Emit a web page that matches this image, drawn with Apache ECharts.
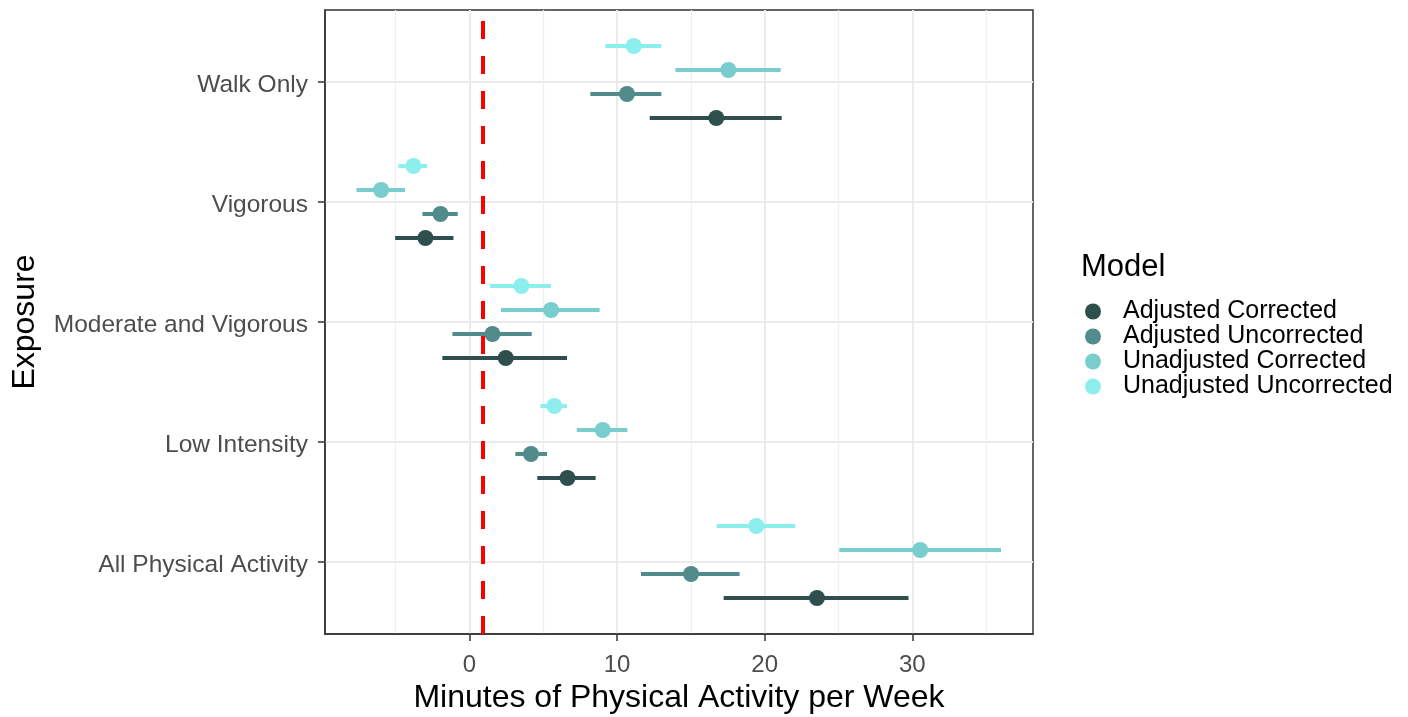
<!DOCTYPE html>
<html>
<head>
<meta charset="utf-8">
<script src="https://cdn.jsdelivr.net/npm/echarts@6/dist/echarts.min.js"></script>
<style>
  html, body { margin: 0; padding: 0; background: #fff; }
  #main { width: 1408px; height: 717px; }
</style>
</head>
<body>
<div id="main"></div>
<script>
// exposures, bottom to top
var exposures = ['All Physical Activity', 'Low Intensity', 'Moderate and Vigorous', 'Vigorous', 'Walk Only'];
var models = ['Adjusted Corrected', 'Adjusted Uncorrected', 'Unadjusted Corrected', 'Unadjusted Uncorrected'];
var modelColors = ['#2F4F4F', '#528B8B', '#79CDCD', '#8DEEEE'];

// estimates and intervals, one value per exposure (same order as exposures)
var adjCorrEst = [23.54, 6.64, 2.46, -2.98, 16.72];
var adjCorrLow = [17.22, 4.60, -1.83, -5.03, 12.21];
var adjCorrHigh = [29.74, 8.55, 6.61, -1.08, 21.15];

var adjUncEst = [15.01, 4.17, 1.56, -1.96, 10.67];
var adjUncLow = [11.62, 3.11, -1.15, -3.18, 8.19];
var adjUncHigh = [18.30, 5.26, 4.22, -0.79, 13.00];

var unadjCorrEst = [30.53, 9.03, 5.53, -5.98, 17.54];
var unadjCorrLow = [25.05, 7.27, 2.14, -7.65, 13.95];
var unadjCorrHigh = [36.00, 10.70, 8.82, -4.36, 21.08];

var unadjUncEst = [19.43, 5.75, 3.52, -3.79, 11.13];
var unadjUncLow = [16.75, 4.81, 1.40, -4.81, 9.21];
var unadjUncHigh = [22.07, 6.61, 5.53, -2.87, 13.00];

var xTicks = [0, 10, 20, 30];
var xMinorTicks = [-5, 5, 15, 25, 35];
var refValue = 0.93;

var estimates = [adjCorrEst, adjUncEst, unadjCorrEst, unadjUncEst];
var lows = [adjCorrLow, adjUncLow, unadjCorrLow, unadjUncLow];
var highs = [adjCorrHigh, adjUncHigh, unadjCorrHigh, unadjUncHigh];

var font = 'Liberation Sans, Arial, sans-serif';
var yTicks = exposures.map(function (e, i) { return i + 1; });

var chart = echarts.init(document.getElementById('main'));

var pointSeries = [];
var rangeSeries = [];
models.forEach(function (m, k) {
  var dodge = -0.3 + 0.2 * k;
  var color = modelColors[k];
  var pts = [];
  var rng = [];
  for (var i = 0; i < exposures.length; i++) {
    pts.push([estimates[k][i], i + 1 + dodge]);
    rng.push([i + 1 + dodge, lows[k][i], highs[k][i]]);
  }
  pointSeries.push({
    name: m,
    type: 'scatter',
    symbol: 'circle',
    symbolSize: 16,
    itemStyle: { color: color, opacity: 1 },
    data: pts,
    z: 4,
    silent: true
  });
  rangeSeries.push({
    name: m,
    type: 'custom',
    renderItem: function (params, api) {
      var y = api.value(0);
      var a = api.coord([api.value(1), y]);
      var b = api.coord([api.value(2), y]);
      return {
        type: 'line',
        shape: { x1: a[0], y1: a[1], x2: b[0], y2: b[1] },
        style: { stroke: color, lineWidth: 4 }
      };
    },
    encode: { x: [1, 2], y: 0 },
    data: rng,
    z: 3,
    silent: true
  });
});

var option = {
  animation: false,
  textStyle: { fontFamily: font },
  title: {
    text: 'Model',
    left: 1081,
    top: 252,
    padding: 0,
    textStyle: { fontFamily: font, fontSize: 31, fontWeight: 'normal', color: '#000' }
  },
  legend: {
    data: models,
    orient: 'vertical',
    left: 1085,
    top: 299,
    padding: 0,
    icon: 'circle',
    itemWidth: 16,
    itemHeight: 16,
    itemGap: 0,
    textStyle: { fontFamily: font, fontSize: 25, color: '#000', lineHeight: 25, padding: [0, 0, 0, 17] }
  },
  grid: {
    left: 325,
    top: 10,
    right: 375,
    bottom: 83,
    outerBoundsMode: 'none',
    show: true,
    borderColor: '#333',
    borderWidth: 1.5,
    backgroundColor: '#fff'
  },
  xAxis: [{
    type: 'value',
    min: -9.78,
    max: 38.17,
    name: 'Minutes of Physical Activity per Week',
    nameLocation: 'middle',
    nameGap: 48,
    nameTextStyle: { fontFamily: font, fontSize: 32, color: '#000' },
    axisLine: { show: true, onZero: false, lineStyle: { color: '#333', width: 1.5 } },
    axisTick: { show: true, length: 7, customValues: xTicks, lineStyle: { color: '#333', width: 1.5 } },
    axisLabel: { customValues: xTicks, margin: 19, fontSize: 24, color: '#4D4D4D', fontFamily: font },
    splitLine: { show: true, lineStyle: { color: '#EBEBEB', width: 2 } }
  }, {
    type: 'value',
    min: -9.78,
    max: 38.17,
    position: 'top',
    axisLine: { show: false },
    axisTick: { show: false, customValues: xMinorTicks },
    axisLabel: { show: false, customValues: xMinorTicks },
    splitLine: { show: true, lineStyle: { color: '#EFEFEF', width: 1.3 } }
  }],
  yAxis: {
    type: 'value',
    min: 0.4,
    max: 5.6,
    name: 'Exposure',
    nameLocation: 'middle',
    nameRotate: 90,
    nameGap: 284,
    nameTextStyle: { fontFamily: font, fontSize: 32, color: '#000' },
    axisLine: { show: true, onZero: false, lineStyle: { color: '#333', width: 1.5 } },
    axisTick: { show: true, length: 7, customValues: yTicks, lineStyle: { color: '#333', width: 1.5 } },
    axisLabel: {
      customValues: yTicks,
      margin: 17,
      fontSize: 24.5,
      color: '#4D4D4D',
      fontFamily: font,
      formatter: function (v) { return '{l|' + (exposures[Math.round(v) - 1] || '') + '}'; },
      rich: { l: { fontSize: 24.5, color: '#4D4D4D', fontFamily: font, padding: [6, 0, 0, 0] } }
    },
    splitLine: { show: true, lineStyle: { color: '#EBEBEB', width: 2 } }
  },
  series: pointSeries.concat(rangeSeries).concat([{
    type: 'line',
    data: [],
    silent: true,
    markLine: {
      silent: true,
      symbol: 'none',
      label: { show: false },
      lineStyle: { color: '#FF0000', width: 4, type: [18, 17], opacity: 1 },
      data: [{ xAxis: refValue }],
      z: 5
    }
  }])
};

chart.setOption(option);
</script>
</body>
</html>
